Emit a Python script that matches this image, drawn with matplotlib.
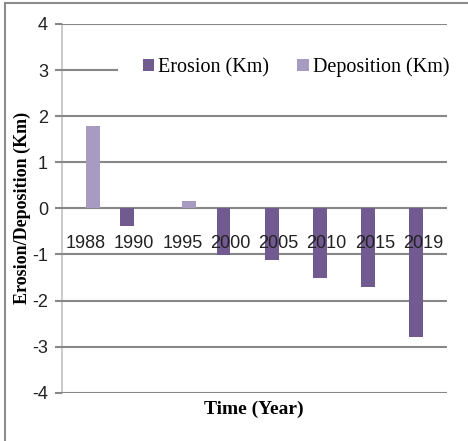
import matplotlib
matplotlib.use("Agg")
import matplotlib.pyplot as plt
import numpy as np
from matplotlib.patches import Rectangle, Patch

years = ["1988", "1990", "1995", "2000", "2005", "2010", "2015", "2019"]
erosion = [np.nan, -0.38, np.nan, -1.02, -1.11, -1.52, -1.70, -2.79]
deposition = [1.78, np.nan, 0.15, np.nan, np.nan, np.nan, np.nan, np.nan]
y_ticks = [-4, -3, -2, -1, 0, 1, 2, 3, 4]

c_ero = "#705a8f"
c_dep = "#a89bc2"
grid_c = "#878787"

fig = plt.figure(figsize=(4.68, 4.41), dpi=100)
ax = fig.add_axes([62/468, 1-392.7/441, 385/468, 368.7/441])

x = np.arange(len(years))
w = 0.286
for yv in y_ticks:
    ax.axhline(yv, color=grid_c, linewidth=1.5, zorder=1)
ax.bar(x - w/2, erosion, width=w, color=c_ero, zorder=2)
ax.bar(x + w/2, deposition, width=w, color=c_dep, zorder=2)
ax.set_axisbelow(False)

ax.set_xlim(-0.5, len(years) - 0.5)
ax.set_ylim(-4, 4)
ax.set_yticks(y_ticks)
ax.set_yticklabels([str(v) for v in y_ticks])

for s in ["top", "right"]:
    ax.spines[s].set_visible(False)
ax.spines["left"].set_color("#c0c0c0")
ax.spines["left"].set_linewidth(1.2)
ax.spines["left"].set_zorder(0.8)
ax.spines["bottom"].set_position(("data", 0))
ax.spines["bottom"].set_visible(False)

ax.set_xticks(x)
ax.set_xticklabels(years)
ax.tick_params(axis="x", length=0, pad=19.5, labelsize=13, labelcolor="#222222")
ax.tick_params(axis="y", length=5, width=1.5, color=grid_c, pad=5,
               labelsize=13, labelcolor="#222222")
for lab in ax.get_xticklabels() + ax.get_yticklabels():
    lab.set_fontfamily("Liberation Sans")

ax.set_ylabel("Erosion/Deposition (Km)", fontfamily="Liberation Serif",
              fontweight="bold", fontsize=13, labelpad=1)
fig.text(254/468, 1-409/441, "Time (Year)", fontfamily="Liberation Serif",
         fontweight="bold", fontsize=14, ha="center", va="center")

handles = [Patch(facecolor=c_ero, edgecolor="none"),
           Patch(facecolor=c_dep, edgecolor="none")]
leg = ax.legend(handles, ["Erosion (Km)", "Deposition (Km)"], ncol=2,
                loc="center left", bbox_to_anchor=((118-62)/385, 0.883),
                prop={"family": "Liberation Serif", "size": 14.5},
                frameon=True, facecolor="white", edgecolor="none", framealpha=1,
                handlelength=0.55, handleheight=0.55, handletextpad=0.2,
                columnspacing=1.4, borderpad=1.25, borderaxespad=0)
leg.set_zorder(5)

fig.patches.append(Rectangle((4.5/468, -0.05), 1.1, (441-3)/441 + 0.05,
                             transform=fig.transFigure, fill=False,
                             edgecolor="#8c8c8c", linewidth=1.5))

fig.savefig("out.png", dpi=100)
